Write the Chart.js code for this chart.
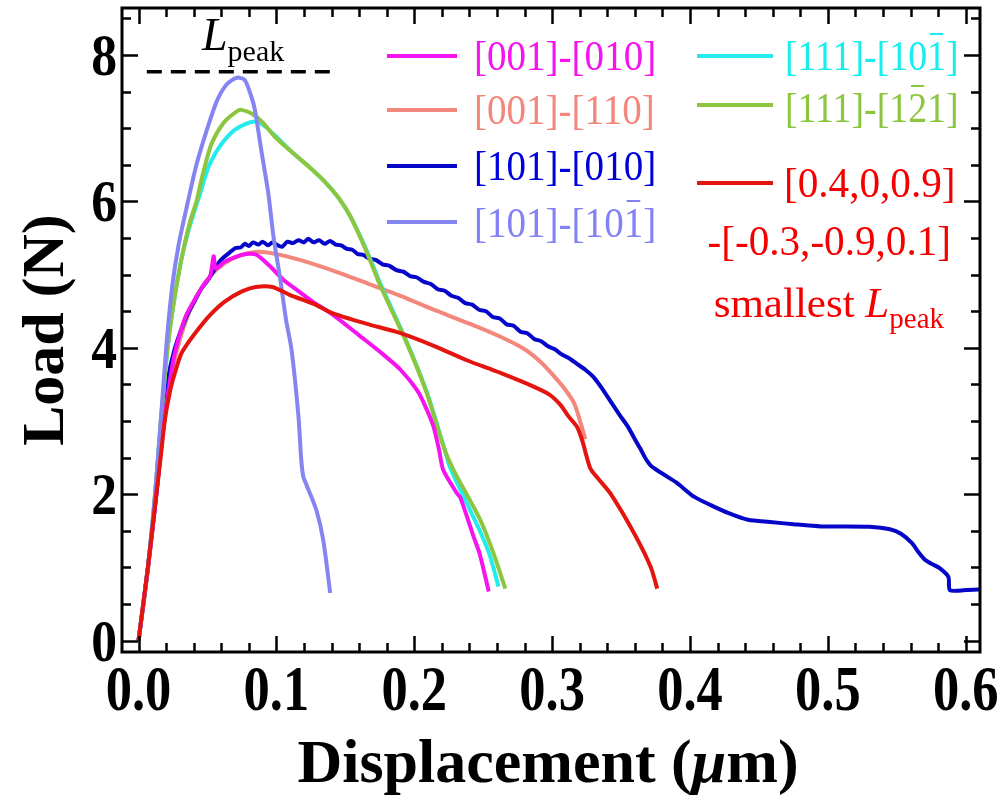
<!DOCTYPE html>
<html>
<head>
<meta charset="utf-8">
<script src="https://cdn.jsdelivr.net/npm/chart.js@4.4.1/dist/chart.umd.min.js"></script>
<style>
  html, body { margin: 0; padding: 0; background: #fff; }
  canvas { display: block; }
</style>
</head>
<body>
<canvas id="c" width="1003" height="803"></canvas>
<script>
// ---- axis ticks ----
const xTickValues = [0, 0.1, 0.2, 0.3, 0.4, 0.5, 0.6];
const xTickLabels = ['0.0', '0.1', '0.2', '0.3', '0.4', '0.5', '0.6'];
const yTickValues = [0, 2, 4, 6, 8];
const yTickLabels = ['0', '2', '4', '6', '8'];

// ---- series: [displacement (um), load (N)] ----
const s001_010 = [[0,0],[0.0068,1.0],[0.0129,2.0],[0.018,2.9],[0.022,3.45],[0.026,3.9],[0.034,4.42],[0.042,4.7],[0.048,4.88],[0.052,4.98],[0.0545,5.25],[0.056,5.08],[0.062,5.17],[0.07,5.24],[0.078,5.28],[0.0855,5.27],[0.095,5.12],[0.105,4.93],[0.117,4.76],[0.127,4.62],[0.141,4.45],[0.16,4.17],[0.178,3.9],[0.19,3.7],[0.202,3.42],[0.208,3.2],[0.214,2.92],[0.218,2.6],[0.221,2.33],[0.231,2.01],[0.2335,1.95],[0.243,1.42],[0.2475,1.18],[0.254,0.67]];
const s001_110 = [[0,0],[0.007,1.0],[0.013,2.0],[0.018,2.9],[0.022,3.4],[0.027,3.9],[0.034,4.35],[0.042,4.7],[0.052,4.98],[0.062,5.15],[0.072,5.25],[0.085,5.31],[0.10,5.28],[0.117,5.2],[0.14,5.06],[0.166,4.88],[0.19,4.71],[0.214,4.52],[0.24,4.33],[0.2625,4.15],[0.28,3.98],[0.292,3.8],[0.301,3.62],[0.309,3.44],[0.316,3.24],[0.321,2.95],[0.324,2.75]];
const s101_010 = [[0,0],[0.0068,1.0],[0.0129,2.0],[0.0165,2.7],[0.0178,3.0],[0.0195,3.32],[0.022,3.65],[0.026,3.97],[0.030,4.2],[0.0346,4.42],[0.041,4.65],[0.046,4.82],[0.0505,4.93],[0.0545,5.05],[0.058,5.16],[0.062,5.24],[0.066,5.3],[0.07,5.36],[0.074,5.37],[0.077,5.42],[0.080,5.39],[0.083,5.44],[0.087,5.41],[0.09,5.45],[0.094,5.40],[0.097,5.44],[0.10,5.41],[0.104,5.38],[0.108,5.45],[0.112,5.43],[0.116,5.47],[0.12,5.44],[0.123,5.49],[0.127,5.44],[0.131,5.47],[0.135,5.42],[0.139,5.46],[0.143,5.41],[0.147,5.40],[0.151,5.35],[0.155,5.34],[0.159,5.28],[0.163,5.27],[0.167,5.22],[0.172,5.20],[0.177,5.14],[0.182,5.12],[0.187,5.06],[0.192,5.04],[0.197,4.98],[0.202,4.96],[0.207,4.90],[0.212,4.87],[0.217,4.80],[0.222,4.78],[0.227,4.71],[0.232,4.68],[0.237,4.61],[0.242,4.59],[0.247,4.52],[0.252,4.50],[0.257,4.42],[0.262,4.40],[0.267,4.32],[0.272,4.30],[0.277,4.22],[0.282,4.20],[0.287,4.12],[0.292,4.09],[0.297,4.02],[0.302,3.98],[0.306,3.92],[0.312,3.86],[0.318,3.78],[0.324,3.70],[0.330,3.60],[0.336,3.45],[0.343,3.25],[0.349,3.08],[0.355,2.92],[0.36,2.75],[0.364,2.62],[0.368,2.48],[0.372,2.38],[0.38,2.28],[0.39,2.16],[0.4025,1.97],[0.415,1.85],[0.428,1.74],[0.442,1.65],[0.458,1.62],[0.475,1.59],[0.4953,1.56],[0.51,1.56],[0.53,1.555],[0.545,1.52],[0.553,1.46],[0.561,1.33],[0.566,1.2],[0.5706,1.10],[0.575,1.05],[0.581,0.99],[0.5874,0.87],[0.5885,0.69],[0.600,0.69],[0.612,0.70]];
const s101_10m1 = [[0,0],[0.0068,1.0],[0.012,2.0],[0.0165,3.1],[0.0205,4.1],[0.0245,4.85],[0.029,5.4],[0.0349,5.92],[0.042,6.5],[0.0503,7.02],[0.057,7.38],[0.064,7.6],[0.0713,7.69],[0.077,7.66],[0.0815,7.45],[0.0844,7.25],[0.089,6.7],[0.0941,6.11],[0.098,5.5],[0.1025,4.97],[0.107,4.38],[0.111,3.97],[0.116,3.06],[0.118,2.47],[0.1195,2.24],[0.122,2.12],[0.129,1.78],[0.134,1.37],[0.139,0.65]];
const s111_10m1 = [[0,0],[0.0068,1.0],[0.012,2.0],[0.0155,2.83],[0.0205,3.9],[0.025,4.55],[0.031,5.2],[0.037,5.65],[0.0445,6.1],[0.0507,6.47],[0.0565,6.68],[0.0625,6.84],[0.07,6.98],[0.078,7.06],[0.0856,7.09],[0.092,7.02],[0.099,6.9],[0.112,6.66],[0.125,6.45],[0.135,6.27],[0.145,6.05],[0.1535,5.8],[0.165,5.35],[0.1753,4.88],[0.1946,4.08],[0.209,3.4],[0.2212,2.66],[0.226,2.36],[0.238,1.88],[0.2475,1.5],[0.255,1.15],[0.261,0.74]];
const s111_1m21 = [[0,0],[0.0068,1.0],[0.012,2.0],[0.0155,2.83],[0.0205,3.9],[0.025,4.55],[0.031,5.2],[0.037,5.7],[0.042,6.0],[0.047,6.4],[0.053,6.79],[0.062,7.08],[0.0713,7.23],[0.0747,7.25],[0.082,7.2],[0.09,7.08],[0.099,6.88],[0.112,6.66],[0.125,6.45],[0.135,6.27],[0.145,6.05],[0.1535,5.8],[0.165,5.33],[0.1753,4.85],[0.1946,4.06],[0.209,3.38],[0.2212,2.65],[0.2285,2.33],[0.2478,1.65],[0.2575,1.19],[0.266,0.71]];
const sSmallest = [[0,0],[0.0068,1.0],[0.0129,2.0],[0.016,2.5],[0.019,3.0],[0.0215,3.28],[0.024,3.5],[0.0275,3.73],[0.031,3.92],[0.036,4.07],[0.041,4.2],[0.0505,4.42],[0.0625,4.63],[0.075,4.77],[0.085,4.83],[0.097,4.83],[0.11,4.72],[0.127,4.6],[0.141,4.47],[0.165,4.33],[0.19,4.2],[0.215,4.02],[0.238,3.83],[0.262,3.66],[0.2865,3.47],[0.298,3.36],[0.306,3.22],[0.312,3.06],[0.318,2.92],[0.322,2.72],[0.3277,2.35],[0.333,2.22],[0.3422,2.01],[0.3593,1.47],[0.3714,1.01],[0.3762,0.71]];
const peakMarker = [[0.006,7.77],[0.139,7.77]];

const seriesColors = ['#f514f0', '#f4877c', '#0606c8', '#8585f2', '#22ecec', '#8cc63f', '#e4140e'];
const textColors   = ['#f514f0', '#f4877c', '#0000dd', '#8282f6', '#19eeee', '#8cc63f', '#f40000'];

const SERIF = '"Liberation Serif", "Times New Roman", serif';

const toXY = arr => arr.map(p => ({ x: p[0], y: p[1] }));
const curve = (data, color, order) => ({
  data: toXY(data), borderColor: color, borderWidth: 4, showLine: true,
  pointRadius: 0, tension: 0.25, borderJoinStyle: 'round', order
});

// draws a run of text pieces, squeezed horizontally by sx; returns total width
function rich(ctx, parts, x, y, align, sx = 1) {
  let total = 0;
  parts.forEach(p => { ctx.font = p.font; total += ctx.measureText(p.s).width; });
  let cx = align === 'center' ? -total / 2 : align === 'right' ? -total : 0;
  ctx.save();
  ctx.translate(x, y);
  ctx.scale(sx, 1);
  parts.forEach(p => {
    ctx.font = p.font; ctx.fillStyle = p.color; ctx.textAlign = 'left'; ctx.textBaseline = 'alphabetic';
    ctx.fillText(p.s, cx, p.dy || 0);
    if (p.bar !== undefined) {
      const pre = ctx.measureText(p.s.slice(0, p.bar)).width;
      const w = ctx.measureText(p.s[p.bar]).width;
      ctx.fillRect(cx + pre + w * 0.15, -p.barH, w * 0.7, 2);
    }
    cx += ctx.measureText(p.s).width;
  });
  ctx.restore();
  return total * sx;
}

const decor = {
  id: 'decor',
  afterDatasetsDraw(chart) {
    const { ctx, chartArea: a, scales: { x, y } } = chart;
    ctx.save();
    ctx.strokeStyle = '#000';
    // ticks on all four sides, pointing inward
    ctx.lineWidth = 2.5;
    for (let i = 0; i <= 30; i++) {
      const v = i * 0.02;
      if (v > x.max) break;
      const px = Math.round(x.getPixelForValue(v)) + 0.5;
      const len = i % 5 === 0 ? 16 : 9;
      ctx.beginPath();
      ctx.moveTo(px, a.bottom); ctx.lineTo(px, a.bottom - len);
      ctx.moveTo(px, a.top); ctx.lineTo(px, a.top + len);
      ctx.stroke();
    }
    for (let i = 0; i <= 17; i++) {
      const v = i * 0.5;
      if (v > y.max) break;
      const py = Math.round(y.getPixelForValue(v)) + 0.5;
      const len = i % 4 === 0 ? 16 : 9;
      ctx.beginPath();
      ctx.moveTo(a.left, py); ctx.lineTo(a.left + len, py);
      ctx.moveTo(a.right, py); ctx.lineTo(a.right - len, py);
      ctx.stroke();
    }
    ctx.lineWidth = 3;
    ctx.strokeRect(a.left, a.top, a.right - a.left, a.bottom - a.top);

    // tick labels
    const xf = 'bold 64px ' + SERIF;
    xTickValues.forEach((v, i) => {
      rich(ctx, [{ s: xTickLabels[i], font: xf, color: '#000' }], x.getPixelForValue(v), 710, 'center', 0.82);
    });
    const yf = 'bold 60px ' + SERIF;
    yTickValues.forEach((v, i) => {
      rich(ctx, [{ s: yTickLabels[i], font: yf, color: '#000' }], 117, y.getPixelForValue(v) + 20, 'right', 0.86);
    });

    // axis titles
    const tFont = 'bold 62px ' + SERIF;
    rich(ctx, [
      { s: 'Displacement (', font: tFont, color: '#000' },
      { s: '\u03bc', font: 'italic bold 62px ' + SERIF, color: '#000' },
      { s: 'm)', font: tFont, color: '#000' }
    ], 548, 782, 'center');
    ctx.save();
    ctx.translate(63, 330);
    ctx.rotate(-Math.PI / 2);
    rich(ctx, [{ s: 'Load (N)', font: 'bold 60px ' + SERIF, color: '#000' }], 0, 0, 'center');
    ctx.restore();

    // L_peak label over the dashed marker
    rich(ctx, [
      { s: 'L', font: 'italic 46px ' + SERIF, color: '#000' },
      { s: 'peak', font: '30px ' + SERIF, color: '#000', dy: 11 }
    ], 202, 50, 'left');

    // legend
    const lf = '42px ' + SERIF;
    const rows = [
      { c: 0, x1: 387, x2: 457, ly: 56, tx: 474, ty: 70, s: '[001]-[010]', sx: 0.93 },
      { c: 1, x1: 387, x2: 457, ly: 110, tx: 474, ty: 124, s: '[001]-[110]', sx: 0.93 },
      { c: 2, x1: 387, x2: 457, ly: 166, tx: 474, ty: 180, s: '[101]-[010]', sx: 0.93 },
      { c: 3, x1: 387, x2: 457, ly: 222, tx: 474, ty: 237, s: '[101]-[101]', bar: 9, sx: 0.93 },
      { c: 4, x1: 697, x2: 773, ly: 56, tx: 785, ty: 70, s: '[111]-[101]', bar: 9, sx: 0.9 },
      { c: 5, x1: 697, x2: 773, ly: 105, tx: 785, ty: 122, s: '[111]-[121]', bar: 8, sx: 0.9 },
      { c: 6, x1: 697, x2: 773, ly: 183, tx: 784, ty: 197, s: '[0.4,0,0.9]', sx: 0.98 }
    ];
    rows.forEach(r => {
      ctx.strokeStyle = seriesColors[r.c];
      ctx.lineWidth = 4;
      ctx.beginPath(); ctx.moveTo(r.x1, r.ly); ctx.lineTo(r.x2, r.ly); ctx.stroke();
      rich(ctx, [{ s: r.s, font: lf, color: textColors[r.c], bar: r.bar, barH: 37 }], r.tx, r.ty, 'left', r.sx);
    });
    rich(ctx, [{ s: '-[-0.3,-0.9,0.1]', font: lf, color: textColors[6] }], 951, 255, 'right', 0.98);
    rich(ctx, [
      { s: 'smallest ', font: '43px ' + SERIF, color: textColors[6] },
      { s: 'L', font: 'italic 43px ' + SERIF, color: textColors[6] },
      { s: 'peak', font: '29px ' + SERIF, color: textColors[6], dy: 11 }
    ], 944, 317, 'right', 1);
    ctx.restore();
  }
};

new Chart(document.getElementById('c'), {
  type: 'scatter',
  data: {
    datasets: [
      { data: toXY(peakMarker), borderColor: '#000', borderWidth: 3.5, borderDash: [15, 9], showLine: true, pointRadius: 0, order: 0 },
      curve(sSmallest, seriesColors[6], 1),
      curve(s101_10m1, seriesColors[3], 2),
      curve(s001_010, seriesColors[0], 3),
      curve(s111_1m21, seriesColors[5], 4),
      curve(s111_10m1, seriesColors[4], 5),
      curve(s101_010, seriesColors[2], 6),
      curve(s001_110, seriesColors[1], 7)
    ]
  },
  options: {
    responsive: false,
    animation: false,
    devicePixelRatio: 1,
    layout: { padding: { left: 122, top: 8, right: 23, bottom: 151 } },
    plugins: { legend: { display: false }, tooltip: { enabled: false } },
    scales: {
      x: { type: 'linear', min: -0.012, max: 0.6103, display: false },
      y: { type: 'linear', min: -0.156, max: 8.642, display: false }
    }
  },
  plugins: [decor]
});
</script>
</body>
</html>
